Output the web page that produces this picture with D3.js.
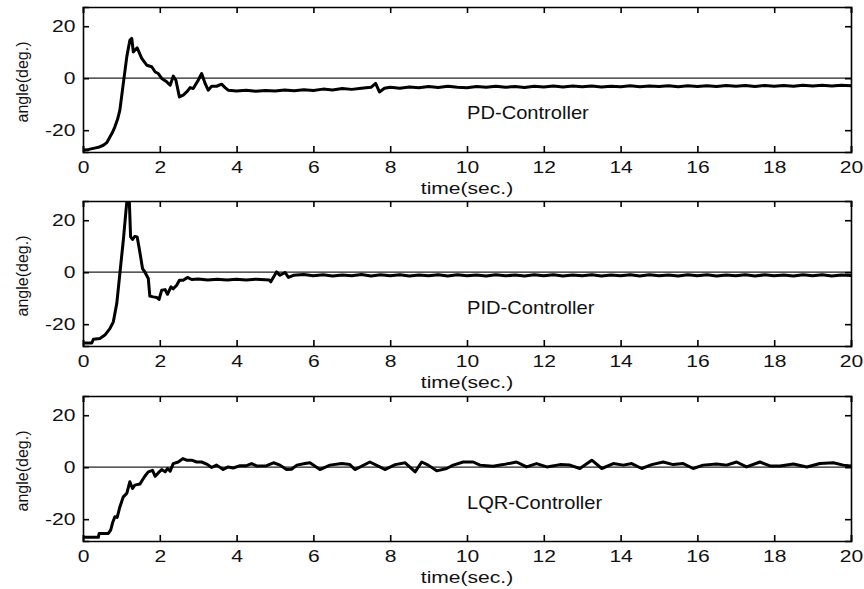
<!DOCTYPE html>
<html>
<head>
<meta charset="utf-8">
<script src="https://cdn.jsdelivr.net/npm/d3@7/dist/d3.min.js"></script>
<style>
  html, body { margin: 0; padding: 0; background: #fff; }
  svg { display: block; }
  text { font-family: "Liberation Sans", Arial, Helvetica, sans-serif; fill: #111; }
</style>
</head>
<body>
<svg id="chart" width="864" height="589"></svg>
<script>
// Inverted-pendulum angle response for three controllers (time in seconds, angle in degrees)
const xTicks = [0, 2, 4, 6, 8, 10, 12, 14, 16, 18, 20];
const yTicks = [-20, 0, 20];
const controllerNames = ["PD-Controller", "PID-Controller", "LQR-Controller"];
const xAxisTitle = "time(sec.)";
const yAxisTitle = "angle(deg.)";

const pdTime = [0, 0.15, 0.27, 0.4, 0.53, 0.62, 0.70, 0.77, 0.83, 0.90, 0.96, 1.05, 1.14, 1.22, 1.27, 1.31, 1.41, 1.53, 1.66, 1.79, 1.88, 1.96, 2.05, 2.18, 2.27, 2.35, 2.42, 2.51, 2.61, 2.70, 2.79, 2.87, 3.0, 3.09, 3.18, 3.26, 3.35, 3.48, 3.61, 3.70, 3.78, 4.0,
  4.25, 4.5, 4.75, 5.0, 5.25, 5.5, 5.75, 6.0, 6.25, 6.5, 6.75, 7.0, 7.25, 7.5, 7.62, 7.72, 7.85, 8.0, 8.25, 8.5, 8.75, 9.0, 9.25, 9.5, 9.75, 10.0,
  10.25, 10.5, 10.75, 11.0, 11.25, 11.5, 11.75, 12.0, 12.25, 12.5, 12.75, 13.0, 13.25, 13.5, 13.75, 14.0, 14.25, 14.5, 14.75, 15.0,
  15.25, 15.5, 15.75, 16.0, 16.25, 16.5, 16.75, 17.0, 17.25, 17.5, 17.75, 18.0, 18.25, 18.5, 18.75, 19.0, 19.25, 19.5, 19.75, 20.0];
const pdAngle = [-27.7, -27.4, -27.0, -26.6, -25.8, -24.8, -22.6, -20.8, -18.7, -15.8, -12.3, -2.0, 8.2, 14.6, 15.3, 10.1, 11.7, 7.6, 5.0, 4.4, 2.4, 1.8, -0.1, -1.4, -2.7, 0.8, -0.8, -7.2, -6.5, -5.3, -3.6, -4.0, -0.8, 1.8, -2.0, -4.6, -3.1, -3.1, -2.3, -3.6, -4.6, -4.9,
  -4.6, -5.0, -4.7, -4.9, -4.5, -4.8, -4.4, -4.7, -4.2, -4.5, -4.0, -4.3, -3.9, -3.5, -2.0, -5.3, -3.9, -3.5, -3.9, -3.4, -3.7, -3.2, -3.6, -3.1, -3.5, -3.7,
  -3.2, -3.5, -3.1, -3.5, -3.2, -3.6, -3.1, -3.4, -3.0, -3.4, -3.0, -3.3, -3.0, -3.4, -3.1, -3.3, -2.9, -3.3, -3.0, -3.2,
  -2.9, -3.3, -2.9, -3.2, -2.9, -3.2, -2.8, -3.1, -2.8, -3.2, -2.8, -3.1, -2.8, -3.1, -2.7, -3.0, -2.7, -3.0, -2.7, -2.9];

const pidTime = [0, 0.23, 0.27, 0.44, 0.57, 0.70, 0.79, 0.88, 0.96, 1.05, 1.12, 1.16, 1.20, 1.24, 1.29, 1.35, 1.41, 1.48, 1.55, 1.61, 1.70, 1.74, 1.83, 1.92, 1.98, 2.05, 2.14, 2.20, 2.29, 2.35, 2.44, 2.51, 2.61, 2.72, 2.83,
  3.0, 3.25, 3.5, 3.75, 4.0, 4.25, 4.5, 4.75, 4.85, 4.89, 5.04, 5.13, 5.26, 5.35, 5.48, 5.75, 6.0, 6.25, 6.5, 6.75, 7.0, 7.25, 7.5, 7.75, 8.0,
  8.25, 8.5, 8.75, 9.0, 9.25, 9.5, 9.75, 10.0, 10.25, 10.5, 10.75, 11.0, 11.25, 11.5, 11.75, 12.0, 12.25, 12.5, 12.75, 13.0, 13.25, 13.5, 13.75, 14.0,
  14.25, 14.5, 14.75, 15.0, 15.25, 15.5, 15.75, 16.0, 16.25, 16.5, 16.75, 17.0, 17.25, 17.5, 17.75, 18.0, 18.25, 18.5, 18.75, 19.0, 19.25, 19.5, 19.75, 20.0];
const pidAngle = [-27.2, -27.2, -25.8, -25.5, -24.2, -21.7, -19.1, -12.0, -0.5, 12.3, 23.8, 30.0, 30.0, 13.6, 12.6, 13.8, 13.6, 7.8, 1.4, 0.1, -2.4, -9.2, -9.5, -9.7, -10.5, -6.9, -6.7, -8.5, -5.6, -6.4, -5.0, -3.1, -3.1, -2.0, -2.8,
  -2.6, -3.0, -2.7, -3.0, -2.7, -3.0, -2.7, -2.9, -3.0, -3.7, 0.1, -1.2, -0.1, -2.0, -1.2, -0.9, -1.4, -1.0, -1.5, -1.1, -1.4, -0.9, -1.5, -1.0, -1.4,
  -1.0, -1.5, -1.1, -1.4, -1.0, -1.5, -1.0, -1.4, -1.1, -1.5, -1.0, -1.4, -1.1, -1.5, -1.0, -1.4, -1.0, -1.5, -1.1, -1.4, -1.0, -1.5, -1.1, -1.4,
  -1.0, -1.5, -1.0, -1.4, -1.1, -1.5, -1.0, -1.4, -1.0, -1.5, -1.1, -1.4, -1.0, -1.5, -1.0, -1.4, -1.1, -1.5, -1.0, -1.4, -1.0, -1.5, -1.1, -1.3];

const lqrTime = [0, 0.40, 0.42, 0.66, 0.72, 0.77, 0.83, 0.89, 0.96, 1.05, 1.14, 1.22, 1.29, 1.35, 1.48, 1.61, 1.70, 1.81, 1.88, 1.96, 2.05, 2.14, 2.20, 2.27, 2.35, 2.48, 2.60, 2.70, 2.83, 2.96, 3.09, 3.22, 3.35, 3.48, 3.65, 3.78, 3.91,
  4.09, 4.26, 4.39, 4.52, 4.78, 4.96, 5.13, 5.30, 5.43, 5.57, 5.78, 5.91, 6.17, 6.43, 6.74, 6.95, 7.08, 7.47, 7.73, 7.86, 8.13, 8.39, 8.65, 8.82, 8.99,
  9.21, 9.47, 9.64, 9.90, 10.16, 10.34, 10.68, 10.94, 11.29, 11.55, 11.81, 12.08, 12.42, 12.68, 12.94, 13.25, 13.51, 13.81, 14.07, 14.29, 14.55, 14.81,
  15.11, 15.37, 15.63, 15.89, 16.15, 16.50, 16.76, 17.02, 17.28, 17.63, 17.89, 18.15, 18.50, 18.85, 19.19, 19.54, 19.80, 20.0];
const lqrAngle = [-27.0, -27.0, -25.5, -25.5, -24.2, -21.4, -19.1, -19.3, -15.3, -11.4, -10.1, -5.6, -8.2, -6.9, -6.5, -3.5, -1.8, -1.2, -3.5, -2.2, -0.9, -1.8, -0.5, -1.5, 1.4, 2.0, 3.3, 2.7, 2.7, 2.0, 2.0, 1.2, -0.1, 0.8, -0.9, 0.1, -0.3,
  0.6, 0.6, 1.4, 0.5, 0.6, 1.7, 0.8, -0.9, -0.8, 0.8, 1.4, 1.7, -0.9, 0.8, 1.4, 1.0, -0.9, 2.0, 0.1, -0.9, 1.0, 1.7, -1.8, 2.0, 0.8,
  -1.4, -0.5, 0.8, 2.0, 2.0, 0.8, 0.4, 1.0, 2.0, 0.1, 1.4, 0.1, 1.0, 0.8, -0.5, 2.7, -0.5, 1.4, 0.8, 1.4, -0.5, 1.0,
  2.0, 1.0, 1.4, -0.5, 0.8, 1.2, 0.8, 2.0, 0.1, 2.0, 0.5, 0.5, 1.2, 0.1, 1.4, 1.7, 0.8, 0.5];

const seriesList = [
  { name: controllerNames[0], time: pdTime, angle: pdAngle },
  { name: controllerNames[1], time: pidTime, angle: pidAngle },
  { name: controllerNames[2], time: lqrTime, angle: lqrAngle }
];

// layout
const left = 83, plotW = 768, plotH = 145;
const panelTops = [7, 201, 396];
const stretch = 1.24;      // wide glyphs for axis labels
const nameStretch = 1.15;  // wide glyphs for controller names

const svg = d3.select("#chart");
const x = d3.scaleLinear().domain([0, 20]).range([0, plotW]);
const y = d3.scaleLinear().domain([-28.4, 27.4]).range([plotH, 0]);

const line = d3.line()
  .x(d => x(d[0]))
  .y(d => y(d[1]))
  .curve(d3.curveLinear);

seriesList.forEach((s, i) => {
  const g = svg.append("g").attr("transform", `translate(${left},${panelTops[i]})`);
  const clipId = "clip" + i;
  g.append("clipPath").attr("id", clipId)
    .append("rect").attr("x", 0).attr("y", 0).attr("width", plotW).attr("height", plotH);

  // zero reference line
  g.append("line")
    .attr("x1", 0).attr("x2", plotW)
    .attr("y1", y(0)).attr("y2", y(0))
    .attr("stroke", "#222").attr("stroke-width", 1.2);

  // response curve
  const pts = s.time.map((t, k) => [t, s.angle[k]]);
  g.append("path")
    .datum(pts)
    .attr("clip-path", `url(#${clipId})`)
    .attr("fill", "none")
    .attr("stroke", "#000")
    .attr("stroke-width", 3)
    .attr("stroke-linejoin", "round")
    .attr("stroke-linecap", "round")
    .attr("d", line);

  // axes with inward ticks on all four sides
  const bottom = g.append("g").attr("transform", `translate(0,${plotH})`)
    .call(d3.axisBottom(x).tickValues(xTicks).tickSize(-6).tickPadding(9).tickFormat(d => String(d)));
  bottom.selectAll("text").attr("font-size", 17).attr("transform", `scale(${stretch},1)`);

  g.append("g")
    .call(d3.axisTop(x).tickValues(xTicks).tickSize(-6).tickFormat(""));

  const leftAx = g.append("g")
    .call(d3.axisLeft(y).tickValues(yTicks).tickSize(-6).tickPadding(0).tickFormat(d => String(d)));
  leftAx.selectAll("text").attr("font-size", 17)
    .attr("x", -7.5 / stretch)
    .attr("transform", `scale(${stretch},1)`);

  g.append("g").attr("transform", `translate(${plotW},0)`)
    .call(d3.axisRight(y).tickValues(yTicks).tickSize(-6).tickFormat(""));

  g.selectAll(".domain").attr("stroke", "#000").attr("stroke-width", 1.6);
  g.selectAll(".tick line").attr("stroke", "#000").attr("stroke-width", 1.6);
  g.selectAll(".tick text").attr("fill", "#111").attr("font-family", "Liberation Sans, Arial, sans-serif");

  // x-axis title
  g.append("text")
    .attr("transform", `translate(${plotW / 2},${plotH + 42}) scale(${stretch},1)`)
    .attr("text-anchor", "middle")
    .attr("font-size", 17)
    .text(xAxisTitle);

  // y-axis title
  g.append("text")
    .attr("transform", `translate(${28 - left},${75}) rotate(-90)`)
    .attr("text-anchor", "middle")
    .attr("font-size", 16)
    .text(yAxisTitle);

  // controller name
  g.append("text")
    .attr("transform", `translate(${467 - left},${112 + (i === 0 ? 0 : 1)}) scale(${nameStretch},1)`)
    .attr("text-anchor", "start")
    .attr("font-size", 17.5)
    .text(s.name);
});
</script>
</body>
</html>
